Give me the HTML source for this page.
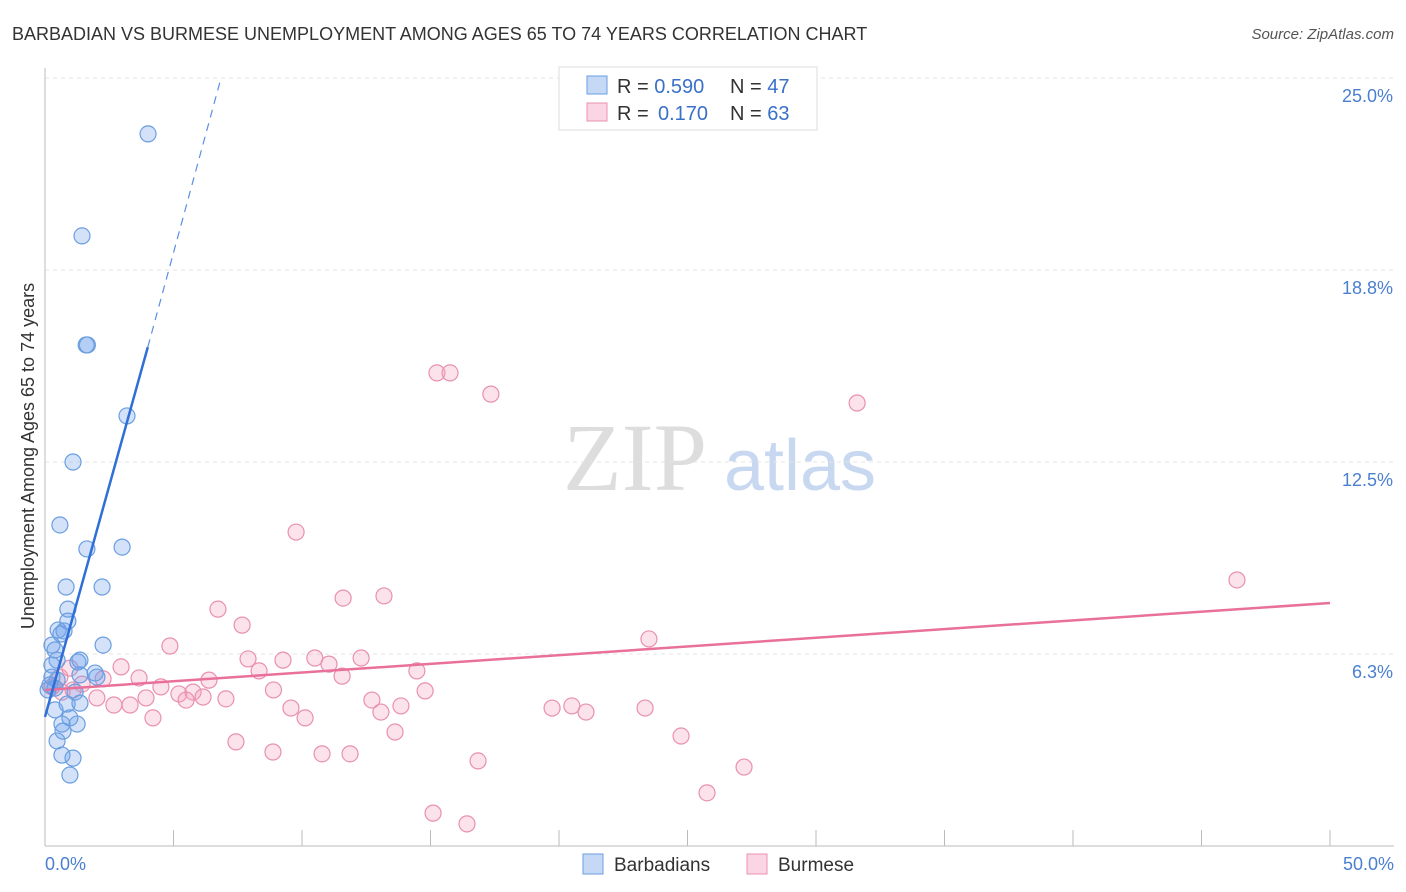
<!DOCTYPE html>
<html><head><meta charset="utf-8"><style>
body{margin:0;background:#fff;font-family:"Liberation Sans",sans-serif}
svg{display:block}
</style></head><body>
<svg id="c" width="1406" height="892">
<text x="12" y="40" font-size="18" fill="#333">BARBADIAN VS BURMESE UNEMPLOYMENT AMONG AGES 65 TO 74 YEARS CORRELATION CHART</text>
<text x="1394" y="39" font-size="15" fill="#555" font-style="italic" text-anchor="end">Source: ZipAtlas.com</text>
<text x="635" y="490" font-size="96" fill="#ddd" text-anchor="middle" font-family="Liberation Serif,serif">ZIP</text>
<text x="800" y="490" font-size="72" fill="#c8d8f0" text-anchor="middle">atlas</text>
<text transform="translate(34,456) rotate(-90)" font-size="18" fill="#333" text-anchor="middle">Unemployment Among Ages 65 to 74 years</text>
<g id="grid"></g><g id="marks"></g>
<g>
<rect x="559" y="67" width="258" height="63" fill="#fff" stroke="#ddd"/>
<rect x="587" y="76" width="20" height="18" fill="rgba(110,160,235,0.4)" stroke="#6a9ee0"/>
<rect x="587" y="103" width="20" height="18" fill="rgba(245,150,185,0.4)" stroke="#e890b0"/>
<text x="617" y="93" font-size="20" fill="#333">R = <tspan fill="#3a70c8">0.590</tspan><tspan x="730">N = </tspan><tspan fill="#3a70c8">47</tspan></text>
<text x="617" y="120" font-size="20" fill="#333">R = <tspan fill="#3a70c8" x="658">0.170</tspan><tspan x="730">N = </tspan><tspan fill="#3a70c8">63</tspan></text>
</g>
<g>
<rect x="583" y="854" width="20" height="20" fill="rgba(110,160,235,0.4)" stroke="#6a9ee0"/>
<text x="614" y="871" font-size="19" fill="#333">Barbadians</text>
<rect x="747" y="854" width="20" height="20" fill="rgba(245,150,185,0.4)" stroke="#e890b0"/>
<text x="778" y="871" font-size="19" fill="#333">Burmese</text>
</g>
</svg>
<script>
const yTicks=[6.25,12.5,18.75,25];
const yTickLabels=["6.3%","12.5%","18.8%","25.0%"];
const xTicks=[0,5,10,15,20,25,30,35,40,45,50];
const blueX=[4.01,1.44,1.6,3.19,1.09,0.58,1.63,3.0,0.82,2.22,0.89,0.89,0.51,0.74,0.62,2.26,0.39,0.27,0.47,0.27,1.36,1.28,1.95,2.02,1.36,0.27,0.47,0.19,0.39,1.17,0.86,1.36,0.39,0.97,0.66,1.25,0.70,0.47,0.66,1.09,0.97,0.12,1.65];
const blueY=[23.18,19.86,16.31,14.0,12.5,10.45,9.67,9.73,8.43,8.43,7.71,7.32,7.03,7.0,6.9,6.54,6.38,6.54,6.05,5.89,6.05,5.99,5.63,5.5,5.57,5.5,5.4,5.24,5.14,5.01,4.62,4.65,4.43,4.17,3.97,3.97,3.74,3.42,2.96,2.86,2.31,5.08,16.31];
const pinkX=[15.25,15.76,17.35,31.6,9.77,46.38,6.73,11.6,13.19,7.67,4.86,23.5,7.9,9.26,10.5,11.05,12.3,8.33,2.96,11.56,14.47,3.66,6.38,2.26,4.51,1.44,1.09,0.66,0.27,5.21,5.76,6.15,5.49,7.04,8.89,14.79,3.93,2.02,2.68,3.31,4.2,9.57,10.12,12.72,13.07,13.85,19.73,20.5,21.05,23.35,13.62,7.43,8.87,10.78,11.87,24.75,16.85,27.2,25.76,15.1,16.42,0.58,0.97];
const pinkY=[15.4,15.4,14.71,14.42,10.22,8.66,7.71,8.07,8.14,7.19,6.51,6.74,6.09,6.05,6.12,5.92,6.12,5.7,5.83,5.53,5.7,5.47,5.4,5.44,5.18,5.27,5.08,5.01,5.18,4.95,5.01,4.85,4.75,4.79,5.08,5.05,4.82,4.82,4.59,4.59,4.17,4.49,4.17,4.75,4.36,4.56,4.49,4.56,4.36,4.49,3.71,3.39,3.06,3.0,3.0,3.58,2.77,2.57,1.73,1.07,0.72,5.5,5.79];
const blueLine=[[0,4.2],[4.0,16.24]];
const blueDash=[[4.0,16.24],[6.85,25]];
const pinkLine=[[0,5.08],[50,7.91]];
const NS="http://www.w3.org/2000/svg";
const sx=v=>45+v/50*1285, sy=v=>846-v/25*768;
function mk(tag,attrs,parent){const e=document.createElementNS(NS,tag);for(const k in attrs)e.setAttribute(k,attrs[k]);parent.appendChild(e);return e;}
const g=document.getElementById('grid'),m=document.getElementById('marks');
yTicks.forEach((t,i)=>{
 const l=mk('line',{x1:45,x2:1394,y1:sy(t),y2:sy(t),stroke:'#e4e4e4','stroke-dasharray':'4,4'},g);
 
 
 const tx=mk('text',{x:1393,y:sy(t)+24,'font-size':18,fill:'#4a7fd0','text-anchor':'end'},g);
 tx.textContent=yTickLabels[i];
 
 
});
const ax=mk('line',{x1:45,x2:1394,y1:846,y2:846,stroke:'#bbb'},g);


const ay=mk('line',{x1:45,x2:45,y1:68,y2:846,stroke:'#bbb'},g);


xTicks.forEach(t=>{
 const l=mk('line',{x1:sx(t),x2:sx(t),y1:830,y2:846,stroke:'#bbb'},g);
 
 
});
[[0,"0.0%","start",45],[50,"50.0%","end",1394]].forEach(a=>{
 const tx=mk('text',{x:a[3],y:870,'font-size':18,fill:'#4a7fd0','text-anchor':a[2]},g);
 tx.textContent=a[1];
 
 
});
pinkX.forEach((x,i)=>{
 const c=mk('circle',{cx:sx(x),cy:sy(pinkY[i]),r:8,fill:'rgba(245,160,190,0.3)',stroke:'#e890b0','stroke-width':1.2},m);
 
 
});
blueX.forEach((x,i)=>{
 const c=mk('circle',{cx:sx(x),cy:sy(blueY[i]),r:8,fill:'rgba(110,160,235,0.3)',stroke:'#6a9ee0','stroke-width':1.2},m);
 
 
});
function ln(p,st,w,d,name){const l=mk('line',{x1:sx(p[0][0]),y1:sy(p[0][1]),x2:sx(p[1][0]),y2:sy(p[1][1]),stroke:st,'stroke-width':w},m);if(d)l.setAttribute('stroke-dasharray',d);
 
 }
ln(pinkLine,'#e8709a',2.5,null,'burmese-trendline');
ln(blueLine,'#2f6fd6',2.5,null,'barbadian-trendline');
ln(blueDash,'#5a8fe0',1.2,'8,6','barbadian-trendline-extension');
</script>
</body></html>
